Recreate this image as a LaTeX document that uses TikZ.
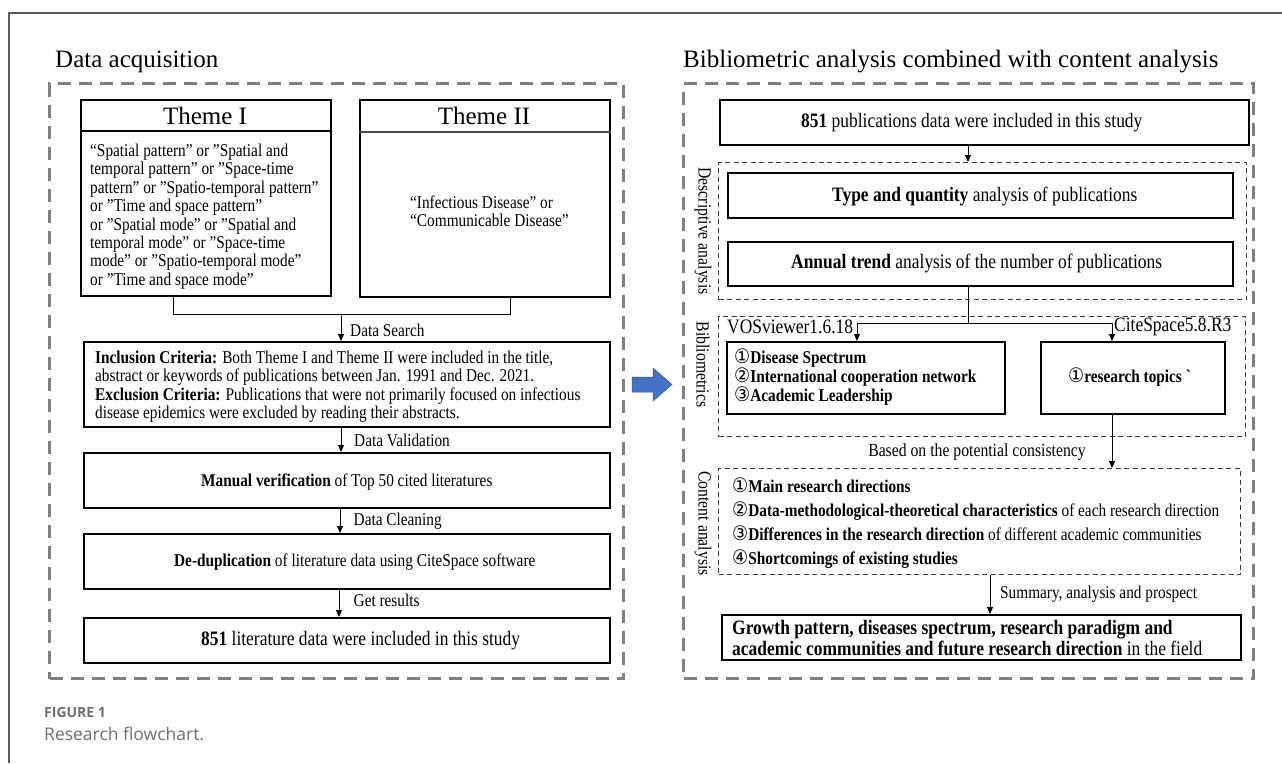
\documentclass[tikz,border=0pt]{standalone}
\usepackage{fontspec}
\setmainfont{Liberation Serif}
\newfontfamily\bodyf{Liberation Serif}[FakeStretch=0.85]
\newfontfamily\circf{DejaVu Sans}[FakeStretch=0.9]
\newfontfamily\capf{Open Sans}
\usetikzlibrary{arrows.meta}
\definecolor{dashgray}{HTML}{808080}
\definecolor{innergray}{HTML}{3A3A3A}
\definecolor{framegray}{HTML}{5A5A5A}
\definecolor{capgray}{HTML}{707070}
\definecolor{arrowblue}{HTML}{4472C4}
\definecolor{arrowedge}{HTML}{2F528F}
\newcommand\ftitle{\rmfamily\fontsize{25}{30}\selectfont}
\newcommand\fbody{\bodyf\fontsize{18}{18.4}\selectfont}
\newcommand\fbig{\bodyf\fontsize{20.5}{21}\selectfont}
\newcommand\cn[1]{{\mdseries\circf\fontsize{20}{17}\selectfont #1}}
\begin{document}
\begin{tikzpicture}[x=1pt,y=-1pt,
  box/.style={draw, line width=1.5, inner sep=0, anchor=north west},
  outerdash/.style={draw=dashgray, line width=3, dash pattern=on 13pt off 8pt, inner sep=0, anchor=north west},
  innerdash/.style={draw=innergray, line width=1.1, dash pattern=on 5pt off 3.5pt, inner sep=0, anchor=north west},
  txt/.style={anchor=west, inner sep=0, font=\fbody},
  bigtxt/.style={anchor=west, inner sep=0, font=\fbig},
  lbl/.style={anchor=west, inner sep=0, font=\fbody},
  side/.style={rotate=-90, inner sep=0, font=\bodyf\fontsize{18.5}{19}\selectfont},
  conn/.style={line width=0.9},
  arr/.style={line width=0.9, -{Triangle[length=7pt,width=6pt]}}
]
\useasboundingbox (0,0) rectangle (1282,763);
\fill[white] (0,0) rectangle (1282,763);
% page frame (top and left)
\draw[framegray, line width=1.2] (9,763) -- (9,13) -- (1282,13);

% ================= LEFT PANEL =================
\node[anchor=base west, inner sep=0, font=\ftitle] (ltitle) at (55,67) {Data acquisition};
\node[outerdash, minimum width=574, minimum height=595] (lpanel) at (48,82) {};

% Theme boxes
\node[box, minimum width=250, minimum height=196] (t1) at (80,99) {};
\draw[line width=1.2] ([yshift=-32pt]t1.north west) -- ([yshift=-32pt]t1.north east);
\node[inner sep=0, font=\ftitle] (t1h) at (205,115.5) {Theme I};
\node[txt, align=left] (t1b) at (90,216.5) {“Spatial pattern” or ”Spatial and\\temporal pattern” or ”Space-time\\pattern” or ”Spatio-temporal pattern”\\or ”Time and space pattern”\\or ”Spatial mode” or ”Spatial and\\temporal mode” or ”Space-time\\mode” or ”Spatio-temporal mode”\\or ”Time and space mode”};

\node[box, minimum width=250, minimum height=197] (t2) at (359,99) {};
\draw[line width=1.2, black!70] ([yshift=-33pt]t2.north west) -- ([yshift=-33pt]t2.north east);
\node[inner sep=0, font=\ftitle] (t2h) at (484,115.5) {Theme II};
\node[txt, align=left] (t2b) at (410,211) {“Infectious Disease” or\\“Communicable Disease”};

% merge connector
\coordinate (j1) at (173,314);
\coordinate (j2) at (510,314);
\coordinate (jm) at (341,314);
\draw[conn] (j1 |- t1.south) -- (j1) -- (j2) -- (j2 |- t2.south);

% inclusion box
\node[box, minimum width=526, minimum height=85] (inc) at (83,341) {};
\node[txt, align=left] (inct) at (95,386.5) {\textbf{Inclusion Criteria:} Both Theme I and Theme II were included in the title,\\abstract or keywords of publications between Jan. 1991 and Dec. 2021.\\\textbf{Exclusion Criteria:} Publications that were not primarily focused on infectious\\disease epidemics were excluded by reading their abstracts.};
\draw[arr] (jm) -- (jm |- inc.north);
\node[lbl] (l1) at (350,330) {Data Search};

\node[box, minimum width=526, minimum height=55] (man) at (83,452) {};
\node[txt] (mant) at (201,482) {\textbf{Manual verification} of Top 50 cited literatures};
\coordinate (c2) at (341,440);
\draw[arr] (c2 |- inc.south) -- (c2 |- man.north);
\node[lbl] (l2) at (354,440) {Data Validation};

\node[box, minimum width=526, minimum height=55] (ded) at (83,533) {};
\node[txt] (dedt) at (174,562) {\textbf{De-duplication} of literature data using CiteSpace software};
\coordinate (c3) at (340,520);
\draw[arr] (c3 |- man.south) -- (c3 |- ded.north);
\node[lbl] (l3) at (353.5,521) {Data Cleaning};

\node[box, minimum width=526, minimum height=45] (res) at (83,617) {};
\node[bigtxt] (rest) at (201,641) {\textbf{851} literature data were included in this study};
\coordinate (c4) at (339,600);
\draw[arr] (c4 |- ded.south) -- (c4 |- res.north);
\node[lbl] (l4) at (353.5,600) {Get results};

% caption
\node[anchor=base west, inner sep=0, font=\capf\bfseries\fontsize{14}{15}\selectfont, text=capgray] (figl) at (44,717) {FIGURE 1};
\node[anchor=base west, inner sep=0, font=\capf\fontsize{17.5}{19}\selectfont, text=capgray] (figc) at (44,740) {Research flowchart.};

% blue block arrow
\draw[fill=arrowblue, draw=arrowedge, line width=0.5] (632,377) -- (653,377) -- (653,368) -- (672,384.5) -- (653,401) -- (653,392) -- (632,392) -- cycle;

% ================= RIGHT PANEL =================
\node[anchor=base west, inner sep=0, font=\ftitle] (rtitle) at (683,67) {Bibliometric analysis combined with content analysis};
\node[outerdash, minimum width=570, minimum height=595] (rpanel) at (682,82) {};

\node[box, minimum width=529, minimum height=45] (pub) at (719,99) {};
\node[bigtxt] (pubt) at (801,123) {\textbf{851} publications data were included in this study};

\node[innerdash, minimum width=528, minimum height=137] (desc) at (718,162) {};
\node[side] (descl) at (703,231) {Descriptive analysis};
\coordinate (d1) at (968,150);
\draw[arr] (d1 |- pub.south) -- (d1 |- desc.north);

\node[box, minimum width=505, minimum height=45] (typ) at (727,172) {};
\node[bigtxt] (typt) at (832,196) {\textbf{Type and quantity} analysis of publications};

\node[box, minimum width=505, minimum height=44] (ann) at (727,241) {};
\node[bigtxt] (annt) at (791,263) {\textbf{Annual trend} analysis of the number of publications};

\node[innerdash, minimum width=527, minimum height=120] (bib) at (718,316) {};
\node[side] (bibl) at (703,364.5) {Bibliometrics};

\node[box, minimum width=278, minimum height=72] (vos) at (726,341) {};
\node[anchor=west, inner sep=0, align=left, font=\bodyf\bfseries\fontsize{18}{19}\selectfont] (vost) at (734,377) {\cn{①}Disease Spectrum\\\cn{②}International cooperation network\\\cn{③}Academic Leadership};
\node[box, minimum width=184, minimum height=72] (rt) at (1040,341) {};
\node[anchor=west, inner sep=0, font=\bodyf\bfseries\fontsize{18}{19}\selectfont] (rtt) at (1068,377) {\cn{①}research topics `};

\node[anchor=west, inner sep=0, font=\fbig] (vosl) at (727,327) {VOSviewer1.6.18};
\node[anchor=west, inner sep=0, font=\fbig] (citl) at (1114,327) {CiteSpace5.8.R3};

\coordinate (s0) at (968,323);
\coordinate (s1) at (857,323);
\coordinate (s2) at (1112,323);
\draw[conn] (s0 |- ann.south) -- (s0);
\draw[conn] (s1) -- (s2);
\draw[arr] (s1) -- (s1 |- vos.north);
\draw[arr] (s2) -- (s2 |- rt.north);

\node[innerdash, minimum width=522, minimum height=106] (cont) at (718,468) {};
\node[side] (contl) at (703,523.5) {Content analysis};
\draw[arr] (s2 |- rt.south) -- (s2 |- cont.north);
\node[inner sep=0, font=\bodyf\fontsize{18.5}{19}\selectfont] (bl) at (977,452) {Based on the potential consistency};

\node[anchor=west, inner sep=0, align=left, font=\bodyf\fontsize{18}{24}\selectfont] (contt) at (732,523) {\cn{①}\textbf{Main research directions}\\\cn{②}\textbf{Data-methodological-theoretical characteristics} of each research direction\\\cn{③}\textbf{Differences in the research direction} of different academic communities\\\cn{④}\textbf{Shortcomings of existing studies}};

\node[box, minimum width=519, minimum height=45] (gro) at (721,614) {};
\node[anchor=west, inner sep=0, align=left, font=\bodyf\fontsize{20.5}{20.5}\selectfont] (grot) at (732,638) {\textbf{Growth pattern, diseases spectrum, research paradigm and}\\\textbf{academic communities and future research direction} in the field};
\coordinate (g1) at (990,594);
\draw[arr] (g1 |- cont.south) -- (g1 |- gro.north);
\node[lbl] (l5) at (1000,594) {Summary, analysis and prospect};
\end{tikzpicture}
\end{document}
